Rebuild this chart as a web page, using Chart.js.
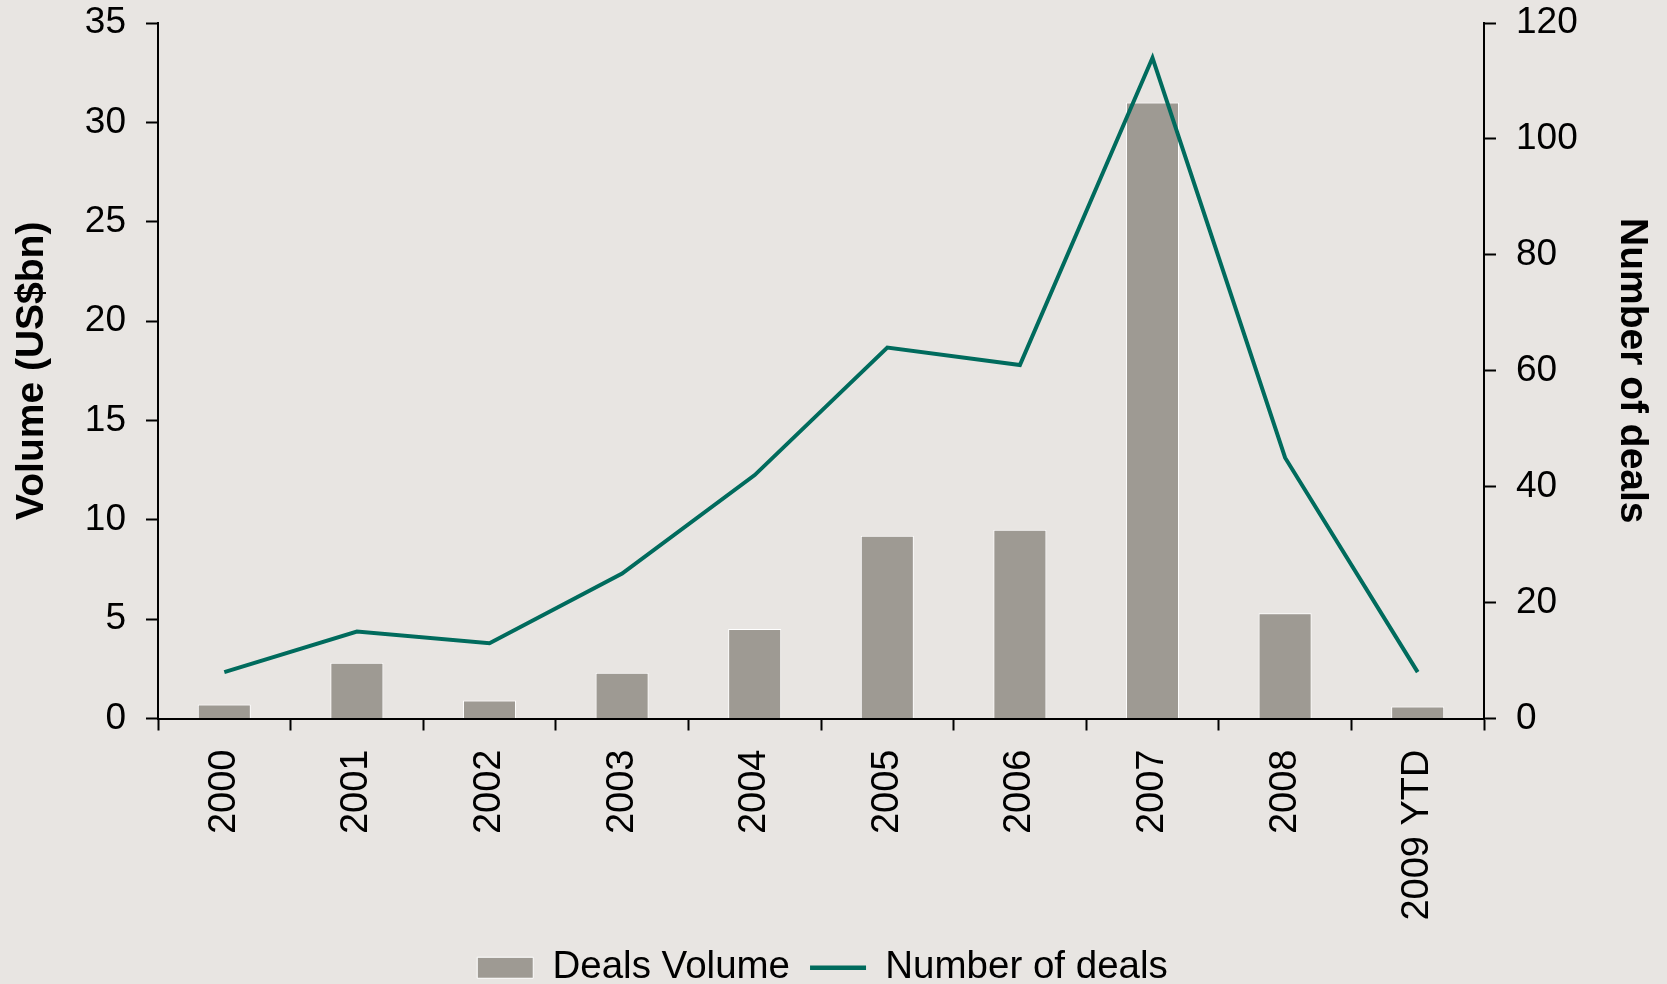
<!DOCTYPE html>
<html>
<head>
<meta charset="utf-8">
<title>Deals volume and number of deals</title>
<script src="https://cdn.jsdelivr.net/npm/chart.js@4/dist/chart.umd.min.js"></script>
<style>
  html, body { margin: 0; padding: 0; background: #e8e5e2; overflow: hidden; }
  #wrap { width: 1667px; height: 984px; }
</style>
</head>
<body>
<div id="wrap"><canvas id="chart" width="1667" height="984"></canvas></div>
<script>
// values
var years = ["2000", "2001", "2002", "2003", "2004", "2005", "2006", "2007", "2008", "2009 YTD"];
var dealsVolume = [0.7, 2.8, 0.9, 2.3, 4.5, 9.2, 9.5, 31.0, 5.3, 0.6]; // US$bn, left axis
var numberOfDeals = [8, 15, 13, 25, 42, 64, 61, 114, 45, 8]; // right axis

var BG = "#e8e5e2";
var BAR = "#9e9a93";
var LINE = "#006b5d";

Chart.defaults.font.family = "'Liberation Sans', Arial, sans-serif";
Chart.defaults.color = "#000";

// paint the grey-beige background behind everything
var bgPlugin = {
  id: "bg",
  beforeDraw: function (chart) {
    var ctx = chart.ctx;
    ctx.save();
    ctx.fillStyle = BG;
    ctx.fillRect(0, 0, chart.width, chart.height);
    ctx.restore();
  },
};

var tickFont = { size: 37 };
var titleFont = { size: 39, weight: "bold" };

// y axes: fixed width, and no extra label padding above/below the plot
function fixY(w) {
  return function (scale) {
    scale.width = w;
    scale.paddingTop = 23;
    scale.paddingBottom = 0;
  };
}

var c = new Chart(document.getElementById("chart"), {
  type: "bar",
  data: {
    labels: years,
    datasets: [
      {
        label: "Deals Volume",
        data: dealsVolume,
        yAxisID: "y",
        backgroundColor: BAR,
        borderColor: "#ffffff",
        borderWidth: 1,
        barPercentage: 0.4,
        categoryPercentage: 1.0,
        order: 1,
      },
      {
        type: "line",
        label: "Number of deals",
        data: numberOfDeals,
        yAxisID: "y1",
        borderColor: LINE,
        backgroundColor: LINE,
        borderWidth: 4,
        pointRadius: 0,
        tension: 0,
        order: 0,
      },
    ],
  },
  options: {
    responsive: false,
    animation: false,
    devicePixelRatio: 1,
    layout: { padding: { top: 0, left: 0, right: 22, bottom: -13 } },
    plugins: {
      tooltip: { enabled: false },
      legend: {
        position: "bottom",
        labels: {
          font: { size: 38.5 },
          color: "#000",
          usePointStyle: true,
          pointStyleWidth: 56,
          boxHeight: 21,
          padding: 20,
          generateLabels: function (chart) {
            var items = Chart.defaults.plugins.legend.labels.generateLabels(chart);
            items.sort(function (a, b) {
              return a.datasetIndex - b.datasetIndex;
            });
            items[0].pointStyle = "rect";
            items[0].fillStyle = BAR;
            items[0].strokeStyle = "#ffffff";
            items[0].lineWidth = 1;
            items[1].pointStyle = "line";
            items[1].strokeStyle = LINE;
            items[1].lineWidth = 4.5;
            return items;
          },
        },
      },
    },
    scales: {
      x: {
        offset: true,
        grid: {
          offset: true,
          drawOnChartArea: false,
          drawTicks: true,
          tickLength: 12,
          tickWidth: 2,
          tickColor: "#000",
        },
        border: { display: true, color: "#000", width: 2 },
        ticks: {
          font: { size: 38 },
          color: "#000",
          minRotation: 90,
          maxRotation: 90,
          padding: 19,
          autoSkip: false,
        },
        afterFit: function (scale) {
          scale.height = 210;
        },
      },
      y: {
        position: "left",
        min: 0,
        max: 35,
        grid: {
          drawOnChartArea: false,
          tickLength: 12,
          tickWidth: 2,
          tickColor: "#000",
        },
        border: { display: true, color: "#000", width: 2 },
        ticks: { stepSize: 5, font: tickFont, color: "#000", padding: 20 },
        title: {
          display: true,
          text: "Volume (US$bn)",
          font: titleFont,
          color: "#000",
          padding: { top: 9, bottom: 0 },
        },
        afterFit: fixY(158),
      },
      y1: {
        position: "right",
        min: 0,
        max: 120,
        grid: {
          drawOnChartArea: false,
          tickLength: 12,
          tickWidth: 2,
          tickColor: "#000",
        },
        border: { display: true, color: "#000", width: 2 },
        ticks: { stepSize: 20, font: tickFont, color: "#000", padding: 20 },
        title: {
          display: true,
          text: "Number of deals",
          font: titleFont,
          color: "#000",
          padding: { top: -10, bottom: 0 },
        },
        afterFit: fixY(161),
      },
    },
  },
  plugins: [bgPlugin],
});
</script>
</body>
</html>
